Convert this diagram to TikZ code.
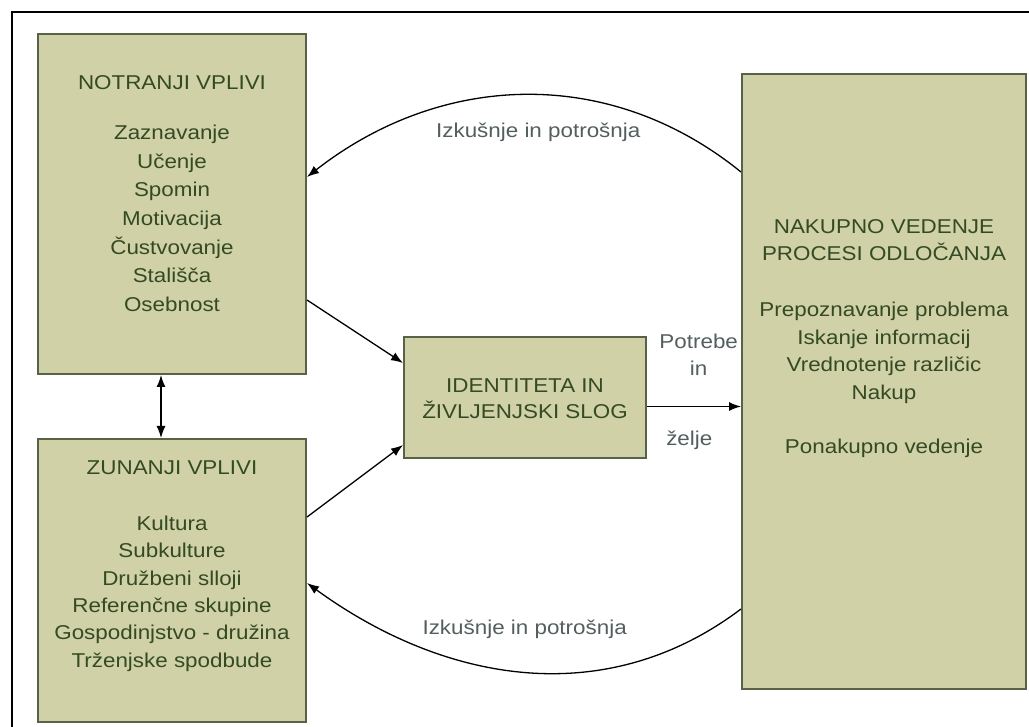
\documentclass[tikz,border=0pt]{standalone}
\usepackage{fontspec}
\setmainfont{Liberation Sans}[FakeStretch=1.12]
\usetikzlibrary{arrows.meta,calc,positioning}

\definecolor{boxfill}{RGB}{208,209,167}
\definecolor{boxline}{RGB}{88,98,70}
\definecolor{boxtext}{RGB}{52,74,36}
\definecolor{lbltext}{RGB}{84,94,94}

\tikzset{
  box/.style={draw=boxline,line width=2pt,fill=boxfill,rectangle,inner sep=0pt},
  boxtxt/.style={text=boxtext,align=center,font=\fontsize{20}{27.4}\selectfont,inner sep=0pt},
  lbl/.style={text=lbltext,align=center,font=\fontsize{20}{27.4}\selectfont,inner sep=0pt},
  conn/.style={line width=1.3pt,-{Latex[length=12pt,width=9pt]}}
}

\begin{document}
\begin{tikzpicture}[x=1pt,y=-1pt]
  \useasboundingbox (0,0) rectangle (1029,727);
  %frame
  \draw [line width=2pt] (12,727) -- (12,12) -- (1029,12) ;

  %boxes
  \node [box,anchor=north west,minimum width=268,minimum height=340] (notr) at (37,33) {};
  \node [box,anchor=north west,minimum width=268,minimum height=283] (zun) at (37,438) {};
  \node [box,anchor=north west,minimum width=242,minimum height=121] (iden) at (403,336) {};
  \node [box,anchor=north west,minimum width=284,minimum height=615] (nak) at (741,73) {};

  %box texts
  \node [boxtxt,anchor=north,font=\fontsize{20}{28.6}\selectfont] (notrtxt) at ([yshift=-42]notr.north)
    {NOTRANJI VPLIVI\\[22pt] Zaznavanje\\ Učenje\\ Spomin\\ Motivacija\\ Čustvovanje\\ Stališča\\ Osebnost};
  \node [boxtxt,anchor=north] (zuntxt) at ([yshift=-23]zun.north)
    {ZUNANJI VPLIVI\\[28pt] Kultura\\ Subkulture\\ Družbeni slloji\\ Referenčne skupine\\ Gospodinjstvo - družina\\ Trženjske spodbude};
  \node [boxtxt,font=\fontsize{20}{26}\selectfont] (identxt) at ([yshift=-1]iden.center)
    {IDENTITETA IN\\ ŽIVLJENJSKI SLOG};
  \node [boxtxt,anchor=north] (naktxt) at ([yshift=-146]nak.north)
    {NAKUPNO VEDENJE\\ PROCESI ODLOČANJA\\[29pt] Prepoznavanje problema\\ Iskanje informacij\\ Vrednotenje različic\\ Nakup\\[27pt] Ponakupno vedenje};

  %connectors
  \draw [conn,{Latex[length=12pt,width=9pt]}-{Latex[length=12pt,width=9pt]}] ([xshift=-11]notr.south) -- ([xshift=-11]zun.north) ;
  \draw [conn] ([yshift=-267]notr.north east) -- ([yshift=-27]iden.north west) ;
  \draw [conn] ([yshift=-79]zun.north east) -- ([yshift=-109]iden.north west) ;
  \draw [conn] ([yshift=-9]iden.east) -- ([yshift=-9]iden.east -| nak.west)
    node [lbl,pos=0.55,above=30pt] (potr) {Potrebe\\in}
    node [lbl,pos=0.45,below=24pt] (zelje) {želje} ;
  \draw [conn] ([yshift=-99]nak.north west) to[out=141,in=38]
    node [lbl,pos=0.47,below=27pt] (izk1) {Izkušnje in potrošnja} ([yshift=-144]notr.north east) ;
  \draw [conn] ([yshift=81]nak.south west) to[out=-143,in=-36]
    node [lbl,pos=0.5,above=32pt] (izk2) {Izkušnje in potrošnja} ([yshift=-145]zun.north east) ;
\end{tikzpicture}
\end{document}
